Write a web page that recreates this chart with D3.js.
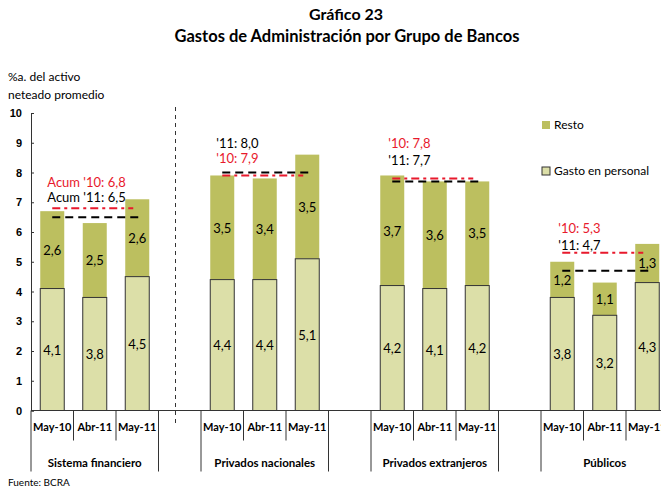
<!DOCTYPE html>
<html>
<head>
<meta charset="utf-8">
<script src="https://cdn.jsdelivr.net/npm/d3@7"></script>
<style>
  body { margin: 0; background: #fff; }
  svg { font-family: Lato, "Open Sans", sans-serif; }
</style>
</head>
<body>
<svg id="chart" width="661" height="488"></svg>
<script>
// chart values
const groups = ['Sistema financiero', 'Privados nacionales', 'Privados extranjeros', 'Públicos'];
const months = ['May-10', 'Abr-11', 'May-11'];
const personal = [[4.1, 3.8, 4.5], [4.4, 4.4, 5.1], [4.2, 4.1, 4.2], [3.8, 3.2, 4.3]];
const resto = [[2.6, 2.5, 2.6], [3.5, 3.4, 3.5], [3.7, 3.6, 3.5], [1.2, 1.1, 1.3]];
const acum10 = [6.8, 7.9, 7.8, 5.3];
const acum11 = [6.5, 8.0, 7.7, 4.7];
const yTicks = [0, 1, 2, 3, 4, 5, 6, 7, 8, 9, 10];

const colResto = '#bcbf5f';
const colPersonal = '#dcdfa8';
const red = '#e8192c';

const svg = d3.select('#chart');
const margin = { top: 113, left: 31 };
const plotW = 637.5;
const plotH = 297.5;

// one slot per bar, one empty slot between groups
const slots = [];
groups.forEach((g, gi) => {
    months.forEach((m, mi) => slots.push({ g: gi, m: mi }));
    if (gi < groups.length - 1) slots.push({ g: gi, gap: true });
});
const slotIdx = d3.range(slots.length);

const x = d3.scaleBand().domain(slotIdx).range([margin.left, margin.left + plotW]).paddingInner(0).paddingOuter(0);
const y = d3.scaleLinear().domain([0, 10]).range([margin.top + plotH, margin.top]);
const bw = 24;
const slotOf = (gi, mi) => slots.findIndex(s => !s.gap && s.g === gi && s.m === mi);
const cx = (gi, mi) => x(slotOf(gi, mi)) + x.bandwidth() / 2;
const fmt = v => v.toFixed(1).replace('.', ',');

// titles
svg.append('text').attr('x', 346).attr('y', 20).attr('text-anchor', 'middle')
    .attr('font-weight', 'bold').attr('font-size', 16).text('Gráfico 23');
svg.append('text').attr('x', 347).attr('y', 42).attr('text-anchor', 'middle')
    .attr('font-weight', 'bold').attr('font-size', 16.5).text('Gastos de Administración por Grupo de Bancos');
svg.append('text').attr('x', 8).attr('y', 81).attr('font-size', 12).text('%a. del activo');
svg.append('text').attr('x', 8).attr('y', 99).attr('font-size', 12).text('neteado promedio');

// y axis
const yAxis = d3.axisLeft(y).tickValues(yTicks).tickSize(-3).tickPadding(9).tickFormat(d3.format('d'));
const gy = svg.append('g').attr('transform', `translate(${margin.left},0)`).call(yAxis);
gy.select('.domain').attr('stroke', '#333');
gy.selectAll('.tick line').attr('stroke', '#333');
gy.selectAll('.tick text').attr('font-weight', 'bold').attr('font-size', 11).attr('fill', '#000');

// dashed separator after Sistema financiero
const sepX = x(3) + x.bandwidth() * 0.4;
svg.append('line').attr('x1', sepX).attr('x2', sepX).attr('y1', y(10) - 6).attr('y2', y(0) + 13)
    .attr('stroke', '#333').attr('stroke-width', 1).attr('stroke-dasharray', '4,4');

// bars
groups.forEach((g, gi) => {
    months.forEach((m, mi) => {
        const left = cx(gi, mi) - bw / 2;
        const p = personal[gi][mi];
        const r = resto[gi][mi];
        svg.append('rect').attr('x', left).attr('width', bw)
            .attr('y', y(p + r)).attr('height', y(p) - y(p + r)).attr('fill', colResto);
        svg.append('rect').attr('x', left).attr('width', bw)
            .attr('y', y(p)).attr('height', y(0) - y(p))
            .attr('fill', colPersonal).attr('stroke', '#333').attr('stroke-width', 1);
        svg.append('text').attr('x', cx(gi, mi)).attr('y', y(p / 2) + 5).attr('text-anchor', 'middle')
            .attr('font-size', 13).text(fmt(p));
        svg.append('text').attr('x', cx(gi, mi)).attr('y', y(p + r / 2) + 5).attr('text-anchor', 'middle')
            .attr('font-size', 13).text(fmt(r));
    });
});

// x axis line
svg.append('line').attr('x1', margin.left).attr('x2', margin.left + plotW)
    .attr('y1', y(0)).attr('y2', y(0)).attr('stroke', '#333');

// slot separators and labels
const groupEdges = [];
groups.forEach((g, gi) => {
    const first = slotOf(gi, 0);
    const last = slotOf(gi, months.length - 1);
    groupEdges.push(x(first), x(last) + x.bandwidth());
});
d3.range(slots.length + 1).forEach(i => {
    const xx = i < slots.length ? x(i) : margin.left + plotW;
    const long = groupEdges.some(e => Math.abs(e - xx) < 0.5);
    svg.append('line').attr('x1', xx).attr('x2', xx).attr('y1', y(0))
        .attr('y2', long ? y(0) + 61 : y(0) + 30).attr('stroke', '#333');
});
groups.forEach((g, gi) => {
    months.forEach((m, mi) => {
        svg.append('text').attr('x', cx(gi, mi)).attr('y', y(0) + 20).attr('text-anchor', 'middle')
            .attr('font-weight', 'bold').attr('font-size', 11).text(m);
    });
    svg.append('text').attr('x', cx(gi, 1)).attr('y', y(0) + 56).attr('text-anchor', 'middle')
        .attr('font-weight', 'bold').attr('font-size', 11.5).text(g);
});

// accumulated reference lines
groups.forEach((g, gi) => {
    const x1 = cx(gi, 0);
    const x2 = cx(gi, 2);
    svg.append('line').attr('x1', x1).attr('x2', x2 - 4).attr('y1', y(acum10[gi])).attr('y2', y(acum10[gi]))
        .attr('stroke', red).attr('stroke-width', 2).attr('stroke-dasharray', '8,4,3,4');
    svg.append('line').attr('x1', x1).attr('x2', x2 + 2).attr('y1', y(acum11[gi])).attr('y2', y(acum11[gi]))
        .attr('stroke', '#000').attr('stroke-width', 2).attr('stroke-dasharray', '8,5');
});

// annotation texts
const notes = [
    { gi: 0, dx: -5, lines: [[`Acum '10: ${fmt(acum10[0])}`, red, 187], [`Acum '11: ${fmt(acum11[0])}`, '#000', 202]] },
    { gi: 1, dx: -6, lines: [[`'11: ${fmt(acum11[1])}`, '#000', 148], [`'10: ${fmt(acum10[1])}`, red, 163]] },
    { gi: 2, dx: -4, lines: [[`'10: ${fmt(acum10[2])}`, red, 148], [`'11: ${fmt(acum11[2])}`, '#000', 165]] },
    { gi: 3, dx: -4, lines: [[`'10: ${fmt(acum10[3])}`, red, 233], [`'11: ${fmt(acum11[3])}`, '#000', 250]] },
];
notes.forEach(n => {
    n.lines.forEach(([t, c, yy]) => {
        svg.append('text').attr('x', cx(n.gi, 0) + n.dx).attr('y', yy).attr('font-size', 13)
            .attr('fill', c).text(t);
    });
});

// legend
const legend = [['Resto', colResto, null, 129], ['Gasto en personal', colPersonal, '#333', 175]];
legend.forEach(([t, c, s, yy]) => {
    svg.append('rect').attr('x', 542).attr('y', yy - 8).attr('width', 8).attr('height', 8)
        .attr('fill', c).attr('stroke', s);
    svg.append('text').attr('x', 554).attr('y', yy).attr('font-size', 12).text(t);
});

svg.append('text').attr('x', 8).attr('y', 486).attr('font-size', 10).text('Fuente: BCRA');
</script>
</body>
</html>
